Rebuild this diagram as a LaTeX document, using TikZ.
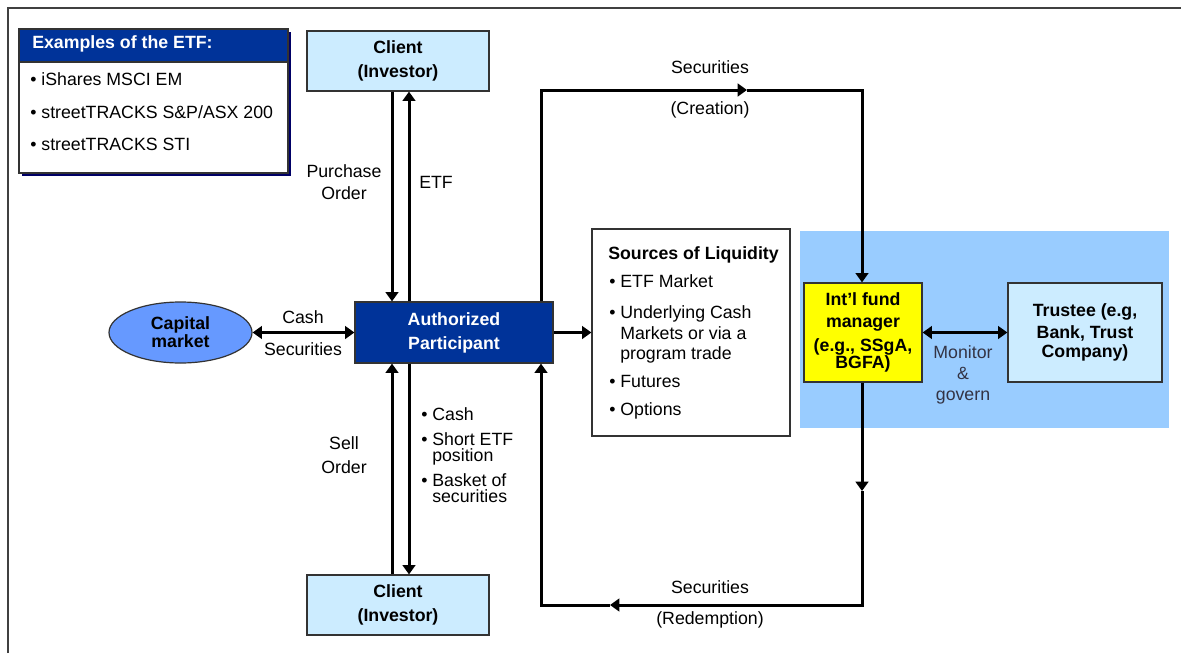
\documentclass[tikz,border=0pt]{standalone}
\usepackage{fontspec}
\setmainfont{Liberation Sans}
\usetikzlibrary{arrows.meta,shapes.geometric,shadows}
\definecolor{navy}{HTML}{003399}
\definecolor{shadowc}{HTML}{000066}
\definecolor{lightb}{HTML}{CCECFF}
\definecolor{capb}{HTML}{6699FF}
\definecolor{regionb}{HTML}{99CCFF}
\definecolor{yel}{HTML}{FFFF00}
\definecolor{edge}{HTML}{333333}
\definecolor{framec}{HTML}{404040}
\definecolor{monc}{HTML}{333344}
\begin{document}
\begin{tikzpicture}[x=0.75pt,y=-0.75pt,
  every node/.style={font=\fontsize{13.3}{16}\selectfont},
  txt/.style={inner sep=0pt},
  box/.style={draw=edge,line width=0.9pt,inner sep=2pt,align=center,
    font=\bfseries\fontsize{13.3}{18}\selectfont},
  conn/.style={line width=2.25pt,draw=black},
  >={Triangle[length=7pt,width=9.5pt]},
]
\useasboundingbox (0,0) rectangle (1181,653);
\fill[white] (0,0) rectangle (1181,653);
% frame
\draw[framec,line width=1.5pt] (8,653) -- (8,8) -- (1181,8);

% examples box
\node[draw=edge,line width=0.9pt,fill=white,minimum width=201.75pt,minimum height=108pt,inner sep=0pt,
  general shadow={fill=shadowc,shadow xshift=2.25pt,shadow yshift=-2.25pt}] (ex) at (153.5,101) {};
\node[draw=edge,line width=0.9pt,fill=navy,minimum width=201.75pt,minimum height=24.75pt,inner sep=0pt,anchor=north] (exh) at (ex.north) {};
\node[txt,anchor=base west,text=white,font=\bfseries\fontsize{13.3}{16}\selectfont] (exht) at (32,48) {Examples of the ETF:};
\node[txt,anchor=base west] (ex1) at (30,85) {• iShares MSCI EM};
\node[txt,anchor=base west] (ex2) at (30,118) {• streetTRACKS S\&P/ASX 200};
\node[txt,anchor=base west] (ex3) at (30,150) {• streetTRACKS STI};

% blue region
\fill[regionb] (800,231) rectangle (1169,428);

% nodes
\node[box,fill=lightb,minimum width=136.5pt,minimum height=45pt] (ct) at (398,61) {Client\\(Investor)};
\node[box,fill=lightb,minimum width=136.5pt,minimum height=45pt] (cb) at (398,605) {Client\\(Investor)};
\node[box,fill=navy,text=white,minimum width=148.5pt,minimum height=45.75pt] (ap) at (454,332.5) {Authorized\\Participant};
\node[ellipse,draw=edge,line width=0.9pt,fill=capb,minimum width=107.25pt,minimum height=45.75pt,inner sep=0pt,
  align=center,font=\bfseries\fontsize{13.3}{11.25}\selectfont] (cap) at (180.5,332.5) {Capital\\market};
\node[draw=edge,line width=0.9pt,fill=white,minimum width=148.5pt,minimum height=155.25pt,inner sep=0pt] (src) at (691,332.5) {};
\node[box,fill=yel,minimum width=88.5pt,minimum height=74.25pt,font=\bfseries\fontsize{13.3}{16.5}\selectfont] (fm) at (863,332.5)
  {Int’l fund\\manager\\[1.5pt](e.g., SSgA,\\[-3.75pt]BGFA)};
\node[box,fill=lightb,minimum width=115.5pt,minimum height=74.25pt,font=\bfseries\fontsize{13.3}{16.5}\selectfont] (tr) at (1085,332.5)
  {Trustee (e.g,\\Bank, Trust\\[-2.25pt]Company)};

% sources text
\node[txt,anchor=base west,font=\bfseries\fontsize{13.3}{16}\selectfont] (srct) at (608,259) {Sources of Liquidity};
\node[txt,anchor=base west] (s1) at (609,287) {• ETF Market};
\node[txt,anchor=base west] (s2) at (609,318) {• Underlying Cash};
\node[txt,anchor=base west] (s2b) at (620,339) {Markets or via a};
\node[txt,anchor=base west] (s2c) at (620,359) {program trade};
\node[txt,anchor=base west] (s3) at (609,387) {• Futures};
\node[txt,anchor=base west] (s4) at (609,415) {• Options};

% labels
\node[txt,align=center,font=\fontsize{13.3}{16.5}\selectfont] (po) at (344,182) {Purchase\\Order};
\node[txt,anchor=west] (etf) at (419,182) {ETF};
\node[txt,align=center,font=\fontsize{13.3}{18}\selectfont] (so) at (344,455) {Sell\\Order};
\node[txt] (cashl) at (303,317) {Cash};
\node[txt] (secl) at (303,349) {Securities};
\node[txt,anchor=base west] (b1) at (421,420) {• Cash};
\node[txt,anchor=base west] (b2) at (421,445) {• Short ETF};
\node[txt,anchor=base west] (b2b) at (432,461) {position};
\node[txt,anchor=base west] (b3) at (421,486) {• Basket of};
\node[txt,anchor=base west] (b3b) at (432,502) {securities};
\node[txt] (sec1) at (710,67) {Securities};
\node[txt] (crl) at (710,110) {(Creation)};
\node[txt] (sec2) at (710,587) {Securities};
\node[txt] (rdl) at (710,620) {(Redemption)};
\node[txt,align=center,text=monc,font=\fontsize{13.3}{16}\selectfont] (mg) at (963,375) {Monitor\\\&\\govern};

% connectors
\coordinate (px) at (392,0);
\coordinate (exx) at (409,0);
\draw[conn,->] (ct.south -| px) -- (ap.north -| px);
\draw[conn,->] (ap.north -| exx) -- (ct.south -| exx);
\draw[conn,->] (cb.north -| px) -- (ap.south -| px);
\draw[conn,->] (ap.south -| exx) -- (cb.north -| exx);
\draw[conn,<->] (cap.east) -- (ap.west);
\draw[conn,->] (ap.east) -- (src.west);
\draw[conn,<->] (fm.east) -- (tr.west);

\coordinate (cr1) at (541,90);
\coordinate (cr2) at (747,90);
\coordinate (cr3) at (862,90);
\draw[conn,->] (ap.north -| cr1) -- (cr1) -- (cr2);
\draw[conn,->] (cr2) -- (cr3) -- (fm.north -| cr3);

\coordinate (rd0) at (862,491);
\coordinate (rd1) at (862,605);
\coordinate (rd2) at (610,605);
\coordinate (rd3) at (541,605);
\draw[conn,->] (fm.south -| rd0) -- (rd0);
\draw[conn,->] (rd0) -- (rd1) -- (rd2);
\draw[conn,->] (rd2) -- (rd3) -- (ap.south -| rd3);
\end{tikzpicture}
\end{document}
